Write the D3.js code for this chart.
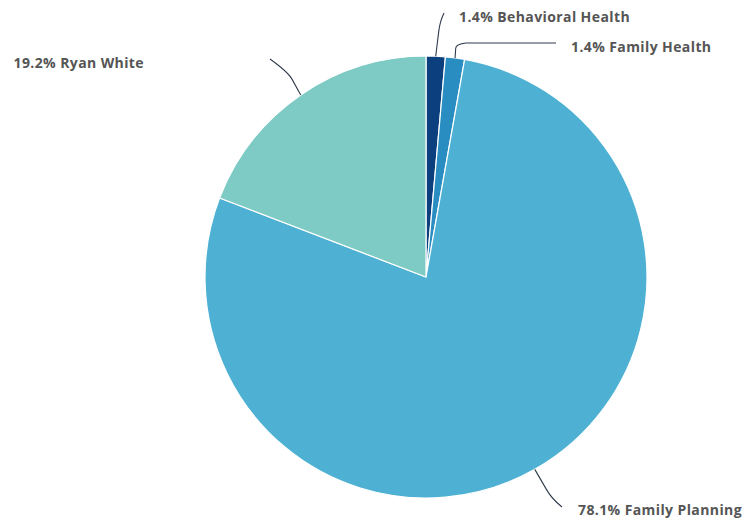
<!DOCTYPE html>
<html><head><meta charset="utf-8">
<script src="https://cdn.jsdelivr.net/npm/d3@7"></script>
<style>
html,body{margin:0;padding:0;background:#fff;}
text{font-family:"Open Sans",Lato,sans-serif;font-weight:bold;letter-spacing:0.4px;}
</style></head>
<body><svg id="chart" width="743" height="520"></svg>
<script>
const categories = ["Behavioral Health", "Family Health", "Family Planning", "Ryan White"];
const values = [1.4, 1.4, 78.1, 19.2];
const colors = ["#0c3f7d", "#2a8dc1", "#4eb1d3", "#7dcbc4"];

const W = 743, H = 520;
const cx = 426, cy = 277, R = 221;
const svg = d3.select("#chart");
const g = svg.append("g").attr("transform", `translate(${cx},${cy})`);

const data = categories.map((c, i) => ({name: c, value: values[i], color: colors[i]}));
const pie = d3.pie().value(d => d.value).sort(null);
const arcs = pie(data);
const arc = d3.arc().innerRadius(0).outerRadius(R);

g.selectAll("path.slice").data(arcs).enter().append("path")
  .attr("class", "slice")
  .attr("d", arc)
  .attr("fill", d => d.data.color)
  .attr("stroke", "#fff").attr("stroke-width", 1.2).attr("stroke-linejoin", "round");

// label layout (connector end offsets relative to center, and text side)
const layout = {
  "Behavioral Health": {bend: [14, -256], end: [18, -264], tx: 33, ty: -258.5, anchor: "start"},
  "Family Health":     {bend: [30, -233], end: [40, -234], far: [130, -234], tx: 145, ty: -228.5, anchor: "start"},
  "Ryan White":        {bend: [-138, -205], end: [-156, -218], tx: -282, ty: -212.5, anchor: "end"},
  "Family Planning":   {bend: [126, 222], end: [136, 230], tx: 152, ty: 234, anchor: "start"}
};

const fmt = d => d.toFixed(1) + "%";
arcs.forEach(a => {
  const L = layout[a.data.name];
  const mid = (a.startAngle + a.endAngle) / 2;
  const x0 = R * Math.sin(mid), y0 = -R * Math.cos(mid);
  const p = d3.path();
  p.moveTo(x0, y0);
  const cxp = L.bend[0], cyp = L.bend[1];
  const sx = x0 + (cxp - x0) * 0.7, sy = y0 + (cyp - y0) * 0.7;
  p.lineTo(sx, sy);
  p.quadraticCurveTo(cxp, cyp, L.end[0], L.end[1]);
  if (L.far) p.lineTo(L.far[0], L.far[1]);
  g.append("path").attr("d", p.toString())
    .attr("fill", "none").attr("stroke", "#2f3b4c").attr("stroke-width", 1.1);
  g.append("text")
    .attr("x", L.tx).attr("y", L.ty)
    .attr("text-anchor", L.anchor)
    .attr("dominant-baseline", "middle")
    .attr("font-size", 14)
    .attr("fill", "#555")
    .text(fmt(a.data.value) + " " + a.data.name);
});
</script></body></html>
